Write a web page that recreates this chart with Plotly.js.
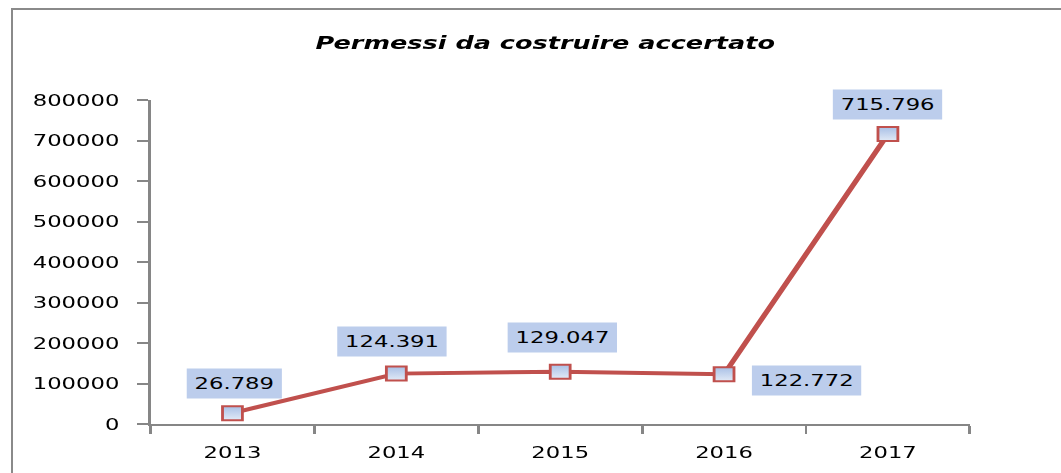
<!DOCTYPE html>
<html>
<head>
<meta charset="utf-8">
<script src="https://cdn.plot.ly/plotly-3.0.1.min.js"></script>
<style>
  html, body { margin:0; padding:0; width:1061px; height:473px; overflow:hidden; background:#fff; }
  #wrap { position:absolute; left:0; top:0; width:747px; height:473px; transform-origin:0 0; }
  #frame { position:absolute; left:11px; top:8px; width:1100px; height:520px; border-left:2px solid #8a8a8a; border-top:2px solid #8a8a8a; pointer-events:none; }
</style>
</head>
<body>
<div id="frame"></div>
<div id="wrap"><div id="chart" style="width:747px;height:473px;"></div></div>
<script>
// Data
const years = ['2013', '2014', '2015', '2016', '2017'];
const permessi = [26789, 124391, 129047, 122772, 715796];
const valueLabels = ['26.789', '124.391', '129.047', '122.772', '715.796'];
const yTicks = [0, 100000, 200000, 300000, 400000, 500000, 600000, 700000, 800000];

// Label placement (pixel offsets, styling only)
const labelShiftX = [1, -3, 1, 58, 0];
const labelShiftY = [30, 32, 34, -6, 30];

const fontFam = 'DejaVu Sans, Verdana, sans-serif';

const trace = {
  x: years,
  y: permessi,
  type: 'scatter',
  mode: 'lines+markers',
  line: { color: '#c0504d', width: 4 },
  marker: {
    symbol: 'square',
    size: 14,
    color: '#a9c0e6',
    gradient: { type: 'vertical', color: '#e2eaf6' },
    line: { color: '#c0504d', width: 2 }
  },
  hoverinfo: 'skip'
};

const annotations = years.map((yr, i) => ({
  x: i,
  y: permessi[i],
  xref: 'x',
  yref: 'y',
  text: valueLabels[i],
  showarrow: false,
  xanchor: 'center',
  yanchor: 'middle',
  xshift: labelShiftX[i],
  yshift: labelShiftY[i],
  bgcolor: '#bccdec',
  borderpad: 5,
  font: { family: fontFam, size: 16, color: '#000000' }
}));

const layout = {
  width: 747,
  height: 473,
  margin: { l: 106, r: 64, t: 100, b: 49 },
  paper_bgcolor: 'rgba(0,0,0,0)',
  plot_bgcolor: 'rgba(0,0,0,0)',
  showlegend: false,
  title: {
    text: 'Permessi da costruire accertato',
    font: { family: fontFam, size: 18, color: '#000', weight: 'bold', style: 'italic' },
    xref: 'container', x: 0.514, xanchor: 'center',
    yref: 'container', y: 0.909, yanchor: 'middle'
  },
  xaxis: {
    type: 'category',
    range: [-0.5, 4.5],
    tickson: 'boundaries',
    ticks: 'outside',
    ticklen: 8,
    tickwidth: 1.5,
    tickcolor: '#868686',
    showline: true,
    linecolor: '#868686',
    linewidth: 2,
    showgrid: false,
    zeroline: false,
    ticklabelstandoff: 13,
    tickfont: { family: fontFam, size: 16, color: '#000' }
  },
  yaxis: {
    range: [0, 800000],
    tickvals: yTicks,
    ticktext: yTicks.map(v => String(v)),
    ticks: 'outside',
    ticklen: 8,
    tickwidth: 1.5,
    tickcolor: '#868686',
    showline: true,
    linecolor: '#868686',
    linewidth: 1.5,
    showgrid: false,
    zeroline: false,
    ticklabelstandoff: 9,
    tickfont: { family: fontFam, size: 16, color: '#000' }
  },
  annotations: annotations
};

Plotly.newPlot('chart', [trace], layout, { displayModeBar: false, responsive: false }).then(function () {
  // stretch horizontally only after Plotly has measured and placed all text
  document.getElementById('wrap').style.transform = 'scaleX(1.42)';
});
</script>
</body>
</html>
